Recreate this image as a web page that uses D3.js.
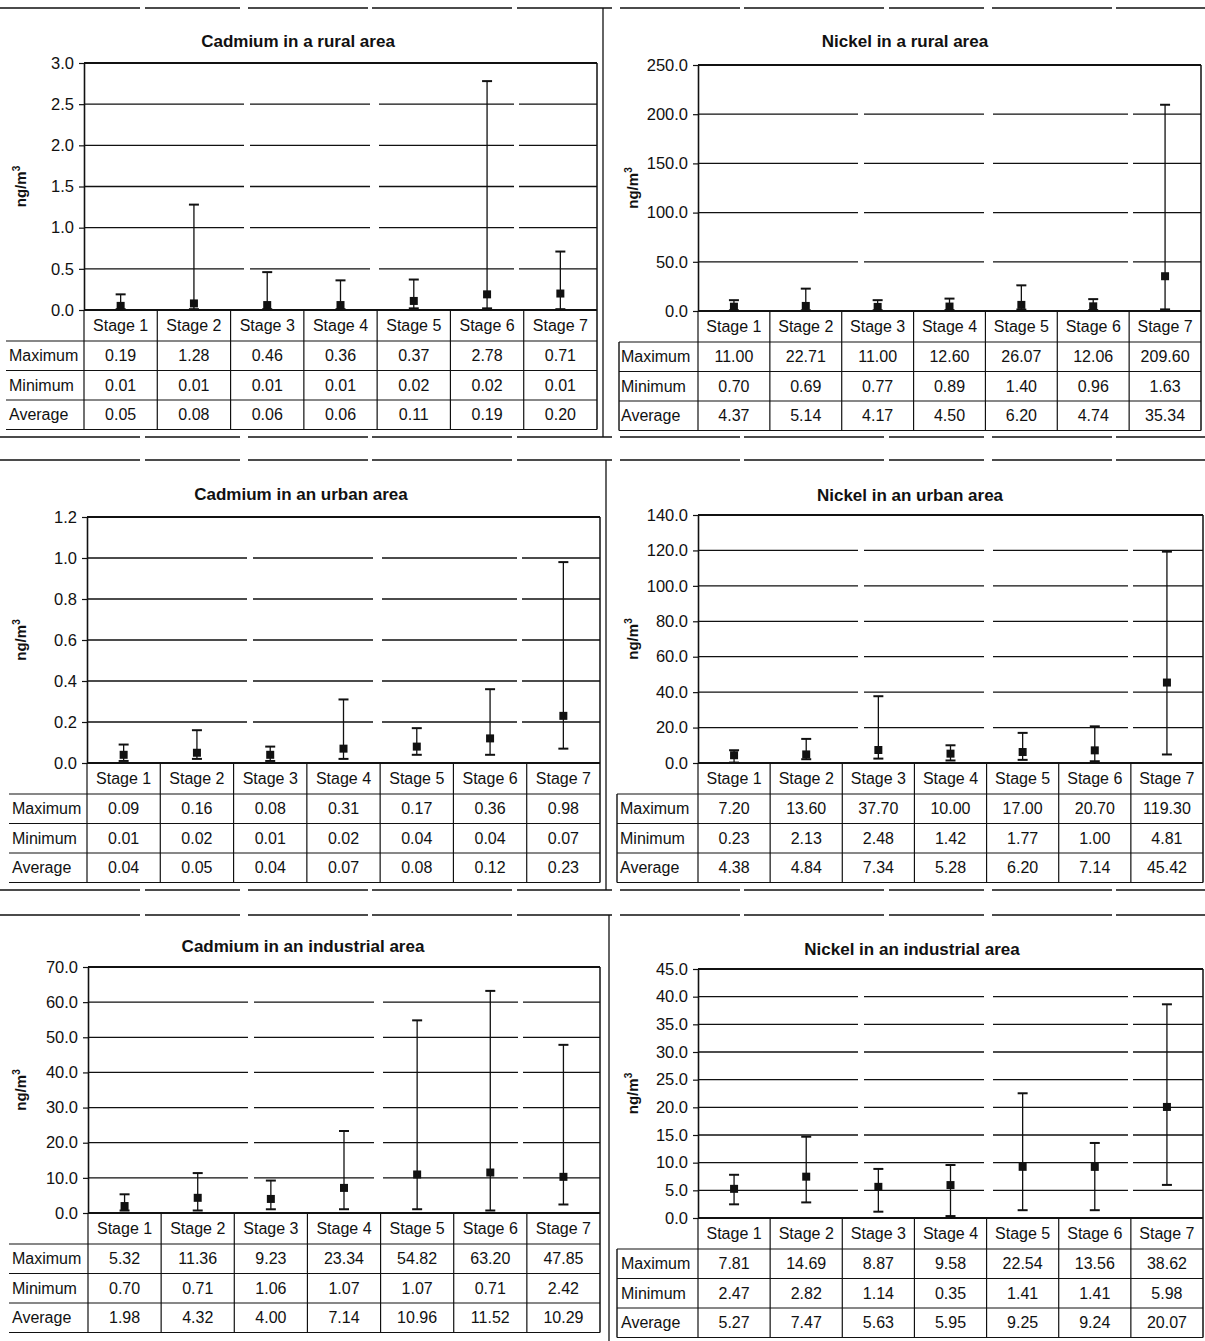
<!DOCTYPE html>
<meta charset="utf-8">
<script src="https://d3js.org/d3.v7.min.js"></script>
<style>
  body { margin: 0; background: #fff; }
  text { font-family: "Liberation Sans", Arial, sans-serif; fill: #111; }
</style>
<div id="sheet"></div>
<script>

// categories and row names
const stages = ["Stage 1", "Stage 2", "Stage 3", "Stage 4", "Stage 5", "Stage 6", "Stage 7"];
const rowNames = ["Maximum", "Minimum", "Average"];

// cadmium, rural
const cdRuralMax = [0.19, 1.28, 0.46, 0.36, 0.37, 2.78, 0.71];
const cdRuralMin = [0.01, 0.01, 0.01, 0.01, 0.02, 0.02, 0.01];
const cdRuralAvg = [0.05, 0.08, 0.06, 0.06, 0.11, 0.19, 0.20];
const cdRuralTicks = [0, 0.5, 1.0, 1.5, 2.0, 2.5, 3.0];

// nickel, rural
const niRuralMax = [11.00, 22.71, 11.00, 12.60, 26.07, 12.06, 209.60];
const niRuralMin = [0.70, 0.69, 0.77, 0.89, 1.40, 0.96, 1.63];
const niRuralAvg = [4.37, 5.14, 4.17, 4.50, 6.20, 4.74, 35.34];
const niRuralTicks = [0, 50, 100, 150, 200, 250];

// cadmium, urban
const cdUrbanMax = [0.09, 0.16, 0.08, 0.31, 0.17, 0.36, 0.98];
const cdUrbanMin = [0.01, 0.02, 0.01, 0.02, 0.04, 0.04, 0.07];
const cdUrbanAvg = [0.04, 0.05, 0.04, 0.07, 0.08, 0.12, 0.23];
const cdUrbanTicks = [0, 0.2, 0.4, 0.6, 0.8, 1.0, 1.2];

// nickel, urban
const niUrbanMax = [7.20, 13.60, 37.70, 10.00, 17.00, 20.70, 119.30];
const niUrbanMin = [0.23, 2.13, 2.48, 1.42, 1.77, 1.00, 4.81];
const niUrbanAvg = [4.38, 4.84, 7.34, 5.28, 6.20, 7.14, 45.42];
const niUrbanTicks = [0, 20, 40, 60, 80, 100, 120, 140];

// cadmium, industrial
const cdIndMax = [5.32, 11.36, 9.23, 23.34, 54.82, 63.20, 47.85];
const cdIndMin = [0.70, 0.71, 1.06, 1.07, 1.07, 0.71, 2.42];
const cdIndAvg = [1.98, 4.32, 4.00, 7.14, 10.96, 11.52, 10.29];
const cdIndTicks = [0, 10, 20, 30, 40, 50, 60, 70];

// nickel, industrial
const niIndMax = [7.81, 14.69, 8.87, 9.58, 22.54, 13.56, 38.62];
const niIndMin = [2.47, 2.82, 1.14, 0.35, 1.41, 1.41, 5.98];
const niIndAvg = [5.27, 7.47, 5.63, 5.95, 9.25, 9.24, 20.07];
const niIndTicks = [0, 5, 10, 15, 20, 25, 30, 35, 40, 45];

const W = 1205, H = 1341;

// where each panel sits on the sheet
const panels = [
  {title: "Cadmium in a rural area", max: cdRuralMax, min: cdRuralMin, avg: cdRuralAvg, ticks: cdRuralTicks,
   tx: 298, ty: 47, x0: 84, x1: 597, y0: 63, y1: 310, labX: 9, boxX: null, ylX: 21},
  {title: "Nickel in a rural area", max: niRuralMax, min: niRuralMin, avg: niRuralAvg, ticks: niRuralTicks,
   tx: 905, ty: 47, x0: 698, x1: 1201, y0: 65, y1: 311, labX: 621, boxX: 619, ylX: 633},
  {title: "Cadmium in an urban area", max: cdUrbanMax, min: cdUrbanMin, avg: cdUrbanAvg, ticks: cdUrbanTicks,
   tx: 301, ty: 500, x0: 87, x1: 600, y0: 517, y1: 763, labX: 12, boxX: null, ylX: 21},
  {title: "Nickel in an urban area", max: niUrbanMax, min: niUrbanMin, avg: niUrbanAvg, ticks: niUrbanTicks,
   tx: 910, ty: 501, x0: 698, x1: 1203, y0: 515, y1: 763, labX: 620, boxX: 617, ylX: 633},
  {title: "Cadmium in an industrial area", max: cdIndMax, min: cdIndMin, avg: cdIndAvg, ticks: cdIndTicks,
   tx: 303, ty: 952, x0: 88, x1: 600, y0: 967, y1: 1213, labX: 12, boxX: null, ylX: 21},
  {title: "Nickel in an industrial area", max: niIndMax, min: niIndMin, avg: niIndAvg, ticks: niIndTicks,
   tx: 912, ty: 955, x0: 698, x1: 1203, y0: 969, y1: 1218, labX: 621, boxX: 617, ylX: 633}
];

const svg = d3.select("#sheet").append("svg")
  .attr("width", W)
  .attr("height", H)
  .style("background", "#fff");

// page separators of the scanned sheet
const sepY = [8, 437, 460, 890, 915];
svg.selectAll("line.sep")
  .data(sepY)
  .enter().append("line")
    .attr("x1", 0).attr("x2", W)
    .attr("y1", d => d).attr("y2", d => d)
    .attr("stroke", "#111").attr("stroke-width", 1.4)
    .attr("stroke-dasharray", "140,5,95,8,120,4");

const dividers = [[603, 8, 437], [606, 460, 890], [609, 915, H]];
svg.selectAll("line.div")
  .data(dividers)
  .enter().append("line")
    .attr("x1", d => d[0]).attr("x2", d => d[0])
    .attr("y1", d => d[1]).attr("y2", d => d[2])
    .attr("stroke", "#111").attr("stroke-width", 1.3);

const headH = 31, rowH = 29.5;
const fs = 16;

panels.forEach(p => {
  const g = svg.append("g");

  const x = d3.scaleBand().domain(stages).range([p.x0, p.x1]);
  const y = d3.scaleLinear()
    .domain([0, d3.max(p.ticks)])
    .range([p.y1, p.y0]);

  // title
  g.append("text")
    .attr("x", p.tx).attr("y", p.ty)
    .attr("text-anchor", "middle")
    .attr("font-size", 17).attr("font-weight", "bold")
    .text(p.title);

  // y label
  g.append("text")
    .attr("transform", "translate(" + p.ylX + "," + ((p.y0 + p.y1) / 2) + ") rotate(-90)")
    .attr("text-anchor", "middle")
    .attr("dy", "0.35em")
    .attr("font-size", 15).attr("font-weight", "bold")
    .html("ng/m<tspan dy='-6' font-size='10'>3</tspan>");

  // gridlines
  g.selectAll("line.grid")
    .data(p.ticks.slice(1, -1))
    .enter().append("line")
      .attr("x1", p.x0).attr("x2", p.x1)
      .attr("y1", d => y(d)).attr("y2", d => y(d))
      .attr("stroke", "#111").attr("stroke-width", 1.3)
      .attr("stroke-dasharray", "160,6,120,9,135,5");

  // frame: top and right
  g.append("line")
    .attr("x1", p.x0).attr("x2", p.x1)
    .attr("y1", p.y0).attr("y2", p.y0)
    .attr("stroke", "#111").attr("stroke-width", 2.2);
  g.append("line")
    .attr("x1", p.x1).attr("x2", p.x1)
    .attr("y1", p.y0).attr("y2", p.y1 + headH + 3 * rowH)
    .attr("stroke", "#111").attr("stroke-width", 1.5);

  // y axis
  const ax = g.append("g")
    .attr("transform", "translate(" + p.x0 + ",0)")
    .call(d3.axisLeft(y)
      .tickValues(p.ticks)
      .tickFormat(d3.format(".1f"))
      .tickSize(5)
      .tickPadding(5)
      .tickSizeOuter(0));
  ax.select(".domain").attr("stroke", "#111").attr("stroke-width", 1.6);
  ax.selectAll(".tick line").attr("stroke", "#111").attr("stroke-width", 1.2);
  ax.selectAll(".tick text")
    .attr("font-size", 16.5)
    .attr("font-family", "'Liberation Sans', Arial, sans-serif")
    .attr("fill", "#111");

  // zero line
  g.append("line")
    .attr("x1", p.x0).attr("x2", p.x1)
    .attr("y1", p.y1).attr("y2", p.y1)
    .attr("stroke", "#111").attr("stroke-width", 1.8);

  // error bars: min to max with average marker
  const cx = s => x(s) + x.bandwidth() / 2;
  const bars = g.selectAll("g.bar")
    .data(stages)
    .enter().append("g");
  bars.append("line")
    .attr("x1", cx).attr("x2", cx)
    .attr("y1", (s, i) => y(p.min[i])).attr("y2", (s, i) => y(p.max[i]))
    .attr("stroke", "#111").attr("stroke-width", 1.3);
  bars.append("line")
    .attr("x1", s => cx(s) - 5).attr("x2", s => cx(s) + 5)
    .attr("y1", (s, i) => y(p.max[i])).attr("y2", (s, i) => y(p.max[i]))
    .attr("stroke", "#111").attr("stroke-width", 2);
  bars.append("line")
    .attr("x1", s => cx(s) - 5).attr("x2", s => cx(s) + 5)
    .attr("y1", (s, i) => y(p.min[i])).attr("y2", (s, i) => y(p.min[i]))
    .attr("stroke", "#111").attr("stroke-width", 2);
  bars.append("rect")
    .attr("x", s => cx(s) - 4)
    .attr("y", (s, i) => y(p.avg[i]) - 4)
    .attr("width", 8).attr("height", 8)
    .attr("fill", "#111");

  // data table under the chart
  const tTop = p.y1, tBody = p.y1 + headH, tBot = tBody + 3 * rowH;
  const leftEdge = p.boxX != null ? p.boxX : p.labX - 3;

  // column borders
  g.selectAll("line.col")
    .data(stages)
    .enter().append("line")
      .attr("x1", s => x(s)).attr("x2", s => x(s))
      .attr("y1", tTop).attr("y2", tBot)
      .attr("stroke", "#111").attr("stroke-width", 1.2);

  // row borders
  g.selectAll("line.row")
    .data([0, 1, 2, 3])
    .enter().append("line")
      .attr("x1", leftEdge).attr("x2", p.x1)
      .attr("y1", d => tBody + d * rowH).attr("y2", d => tBody + d * rowH)
      .attr("stroke", "#111").attr("stroke-width", 1.2);

  if (p.boxX != null) {
    g.append("line")
      .attr("x1", p.boxX).attr("x2", p.boxX)
      .attr("y1", tBody).attr("y2", tBot)
      .attr("stroke", "#111").attr("stroke-width", 1.4);
  }

  // header cells
  g.selectAll("text.head")
    .data(stages)
    .enter().append("text")
      .attr("x", cx).attr("y", tTop + headH / 2)
      .attr("dy", "0.35em")
      .attr("text-anchor", "middle")
      .attr("font-size", fs)
      .text(s => s);

  // row names
  g.selectAll("text.rowname")
    .data(rowNames)
    .enter().append("text")
      .attr("x", p.labX).attr("y", (r, i) => tBody + i * rowH + rowH / 2)
      .attr("dy", "0.35em")
      .attr("font-size", fs)
      .text(r => r);

  // values
  const rows = [p.max, p.min, p.avg];
  rows.forEach((vals, ri) => {
    g.selectAll("text.v" + ri)
      .data(vals)
      .enter().append("text")
        .attr("x", (v, i) => cx(stages[i]))
        .attr("y", tBody + ri * rowH + rowH / 2)
        .attr("dy", "0.35em")
        .attr("text-anchor", "middle")
        .attr("font-size", fs)
        .text(v => d3.format(".2f")(v));
  });
});

</script>
